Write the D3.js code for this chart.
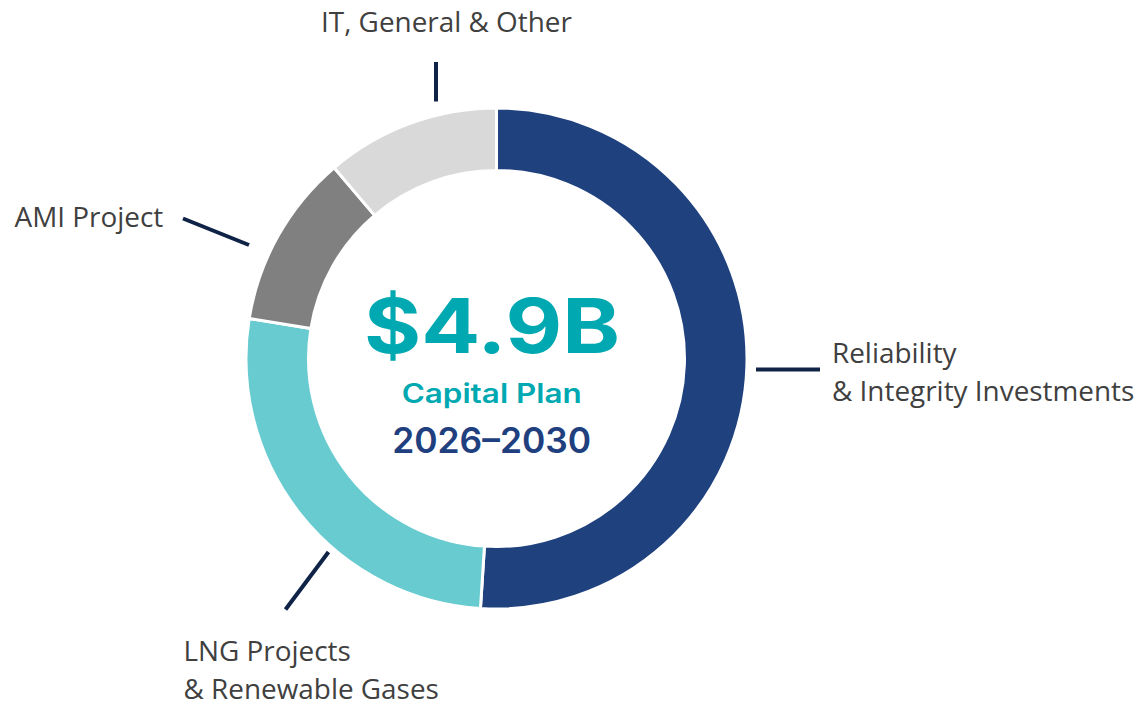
<!DOCTYPE html>
<html lang="en">
<head>
<meta charset="UTF-8">
<title>Capital Plan 2026-2030</title>
<script src="https://d3js.org/d3.v7.min.js"></script>
<style>
  body { margin: 0; background: #fff; }
  svg { display: block; }
</style>
</head>
<body>
<div id="chart"></div>
<script>
// data ($B), clockwise from 12 o'clock
const categories = ["Reliability & Integrity Investments", "LNG Projects & Renewable Gases", "AMI Project", "IT, General & Other"];
const values = [2.5, 1.3, 0.55, 0.55];
const labelLines = [["Reliability", "& Integrity Investments"], ["LNG Projects", "& Renewable Gases"], ["AMI Project"], ["IT, General & Other"]];
const colors = ["#1f417e", "#67cbd0", "#808080", "#d9d9d9"];

// label placement (leader line + text start)
const labelLayout = [
  {line: [756, 369.5, 820, 369.5], x: 832, y: 362.7},
  {line: [328.5, 552, 285.5, 609.5], x: 183.5, y: 660.5},
  {line: [183, 218.5, 249, 245], x: 14.5, y: 227.3},
  {line: [436, 62, 436, 101.5], x: 321, y: 31.7}
];

const W = 1141, H = 705;
const cx = 496.5, cy = 358.5;
const rOuter = 250.5, rInner = 188;

const svg = d3.select("#chart").append("svg")
  .attr("width", W)
  .attr("height", H);

const pie = d3.pie().sort(null).value(d => d);
const arc = d3.arc().innerRadius(rInner).outerRadius(rOuter);

const g = svg.append("g").attr("transform", `translate(${cx},${cy})`);

g.selectAll("path")
  .data(pie(values))
  .enter()
  .append("path")
  .attr("d", arc)
  .attr("fill", (d, i) => colors[i])
  .attr("stroke", "#fff")
  .attr("stroke-width", 3);

// leader lines
svg.selectAll("line.leader")
  .data(labelLayout)
  .enter()
  .append("line")
  .attr("class", "leader")
  .attr("x1", d => d.line[0])
  .attr("y1", d => d.line[1])
  .attr("x2", d => d.line[2])
  .attr("y2", d => d.line[3])
  .attr("stroke", "#0f2347")
  .attr("stroke-width", 4);

// category labels
const lbl = svg.selectAll("text.label")
  .data(labelLines)
  .enter()
  .append("text")
  .attr("class", "label")
  .attr("font-family", "'Open Sans', sans-serif")
  .attr("font-size", 27.9)
  .attr("fill", "#404040");

lbl.selectAll("tspan")
  .data((d, i) => d.map(t => ({t: t, i: i})))
  .enter()
  .append("tspan")
  .attr("x", d => labelLayout[d.i].x)
  .attr("y", (d, j) => labelLayout[d.i].y + j * 38.6)
  .text(d => d.t);

// center text
const total = d3.sum(values);
svg.append("text")
  .attr("x", 492).attr("y", 353.3)
  .attr("text-anchor", "middle")
  .attr("font-family", "Inter, 'Liberation Sans', sans-serif")
  .attr("font-weight", 700)
  .attr("font-size", 75)
  .attr("fill", "#00a9b1")
  .attr("textLength", 256)
  .attr("lengthAdjust", "spacingAndGlyphs")
  .text("$" + total.toFixed(1) + "B");

svg.append("text")
  .attr("x", 491.7).attr("y", 402.7)
  .attr("text-anchor", "middle")
  .attr("font-family", "Inter, 'Liberation Sans', sans-serif")
  .attr("font-weight", 600)
  .attr("font-size", 26.5)
  .attr("fill", "#00a9b1")
  .attr("textLength", 180)
  .attr("lengthAdjust", "spacingAndGlyphs")
  .text("Capital Plan");

svg.append("text")
  .attr("x", 491.7).attr("y", 452.7)
  .attr("text-anchor", "middle")
  .attr("font-family", "Inter, 'Liberation Sans', sans-serif")
  .attr("font-weight", 600)
  .attr("font-size", 35.5)
  .attr("fill", "#1f3f7f")
  .attr("textLength", 199)
  .attr("lengthAdjust", "spacingAndGlyphs")
  .text("2026–2030");
</script>
</body>
</html>
